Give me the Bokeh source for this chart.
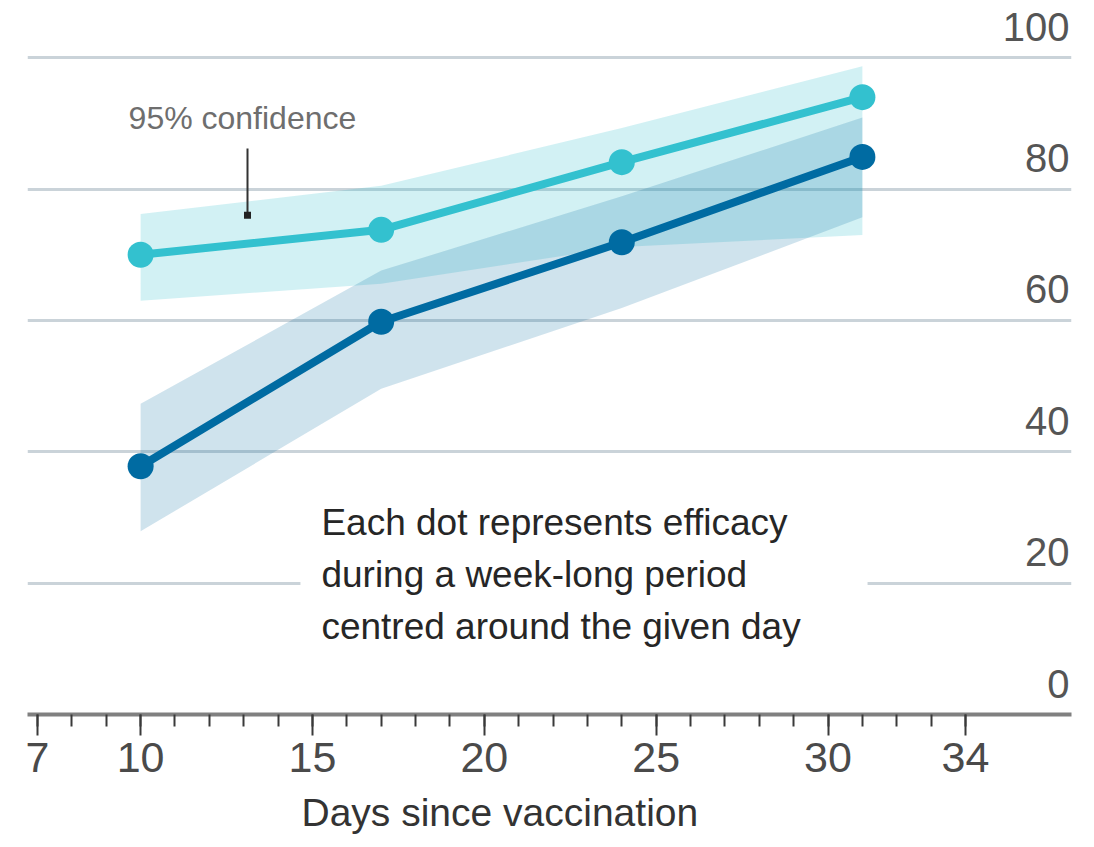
from bokeh.plotting import figure
from bokeh.models import FixedTicker, Range1d, Title
from bokeh.core.properties import value
from bokeh.embed import file_html
from bokeh.resources import INLINE

# ---- data ----
days = [10, 17, 24, 31]
eff_light = [70.0, 73.8, 84.1, 94.0]
eff_light_lo = [63.0, 65.6, 71.2, 73.0]
eff_light_hi = [76.2, 80.5, 89.3, 98.7]
eff_dark = [37.8, 59.8, 71.9, 84.9]
eff_dark_lo = [27.9, 49.6, 61.9, 75.7]
eff_dark_hi = [47.3, 67.6, 78.9, 90.9]

y_ticks = [0, 20, 40, 60, 80, 100]
x_ticks = [7, 10, 15, 20, 25, 30, 34]
x_minor = list(range(7, 35))

note_lines = ["Each dot represents efficacy",
              "during a week-long period",
              "centred around the given day"]

# ---- styles ----
LIGHT = "#33C1CF"
DARK = "#006BA2"
GRID = "#CAD3D9"
FONT = "Liberation Sans"
TICK_COLOR = "#4a4a4a"

X0, X1 = 6.709, 37.084
p = figure(width=1085, height=847, output_backend="svg", toolbar_location=None,
           x_range=Range1d(X0, X1), y_range=Range1d(0, 107.5),
           y_axis_location=None,
           min_border_left=27, min_border_right=14,
           min_border_top=8, min_border_bottom=132)
p.outline_line_color = None
p.background_fill_color = "white"
p.xgrid.visible = False
p.ygrid.ticker = FixedTicker(ticks=[t for t in y_ticks if t > 0])
p.ygrid.grid_line_color = GRID
p.ygrid.grid_line_width = 3

# gap in the 20 gridline behind the note
p.quad(left=[14.65], right=[31.15], bottom=[19.4], top=[20.6],
       fill_color="white", line_color=None)

# confidence bands
p.varea(x=days, y1=eff_light_lo, y2=eff_light_hi, fill_color=LIGHT, fill_alpha=0.22)
p.varea(x=days, y1=eff_dark_lo, y2=eff_dark_hi, fill_color=DARK, fill_alpha=0.19)

# lines + dots
p.line(days, eff_light, line_color=LIGHT, line_width=8)
p.scatter(days, eff_light, size=26, fill_color=LIGHT, line_color=None)
p.line(days, eff_dark, line_color=DARK, line_width=8)
p.scatter(days, eff_dark, size=26, fill_color=DARK, line_color=None)

# y tick labels (inside, right aligned above gridlines)
p.text(x=[X1] * len(y_ticks), y=y_ticks, text=[str(t) for t in y_ticks],
       text_align="right", text_baseline="alphabetic", x_offset=-2, y_offset=-31,
       text_font=value(FONT), text_font_size="40px", text_color="#555555")

# annotation: 95% confidence
p.text(x=[9.65], y=[89.0], text=["95% confidence"], text_align="left",
       text_baseline="alphabetic", y_offset=-12, text_font=value(FONT),
       text_font_size="32px", text_color="#6e6e6e")
p.segment(x0=[13.11], y0=[86.2], x1=[13.11], y1=[76.3], line_color="#333333", line_width=2)
p.scatter(x=[13.11], y=[76.0], marker="square", size=7, fill_color="#222222", line_color=None)

# note text
p.text(x=[15.26] * 3, y=[26.9, 19.0, 11.1], text=note_lines, text_align="left",
       text_baseline="alphabetic", y_offset=-15, text_font=value(FONT),
       text_font_size="37px", text_color="#262626")

# x axis
ax = p.xaxis[0]
ax.ticker = FixedTicker(ticks=x_ticks, minor_ticks=x_minor)
ax.axis_line_color = "#808080"
ax.axis_line_width = 4
ax.major_tick_line_color = "#3a3a3a"
ax.major_tick_line_width = 2
ax.minor_tick_line_color = "#3a3a3a"
ax.minor_tick_line_width = 2
ax.major_tick_in = 0
ax.minor_tick_in = 0
ax.major_tick_out = 21
ax.minor_tick_out = 12
ax.major_label_standoff = 7
ax.major_label_text_font = FONT
ax.major_label_text_font_size = "43px"
ax.major_label_text_color = TICK_COLOR

p.add_layout(Title(text="Days since vaccination", align="left", offset=274,
                   standoff=28, text_font=FONT, text_font_size="39px",
                   text_font_style="normal", text_color="#333333"), "below")

open("out.html", "w").write(file_html(p, INLINE))
